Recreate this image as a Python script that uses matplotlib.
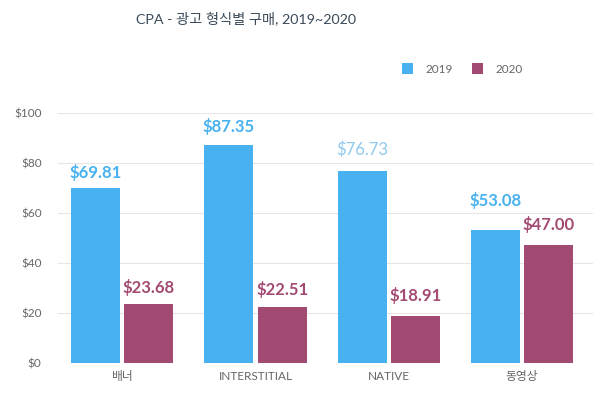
import matplotlib.pyplot as plt
import numpy as np

plt.rcParams['font.family'] = ['Lato', 'Noto Sans CJK KR', 'DejaVu Sans']

categories = ['배너', 'INTERSTITIAL', 'NATIVE', '동영상']
cpa_2019 = [69.81, 87.35, 76.73, 53.08]
cpa_2020 = [23.68, 22.51, 18.91, 47.00]
yticks = [0, 20, 40, 60, 80, 100]

blue = '#48B1EF'
maroon = '#A34A73'

# label lift above the bar top, in pixels (the original nudges some labels)
lift_2019 = [15.5, 18.5, 21, 30]
lift_2020 = [16, 17.5, 20, 21]

fig = plt.figure(figsize=(6, 3.95), dpi=100)
ax = fig.add_axes([0.097, 0.081, 0.891, 0.633])

x = np.arange(len(categories))
w = 0.366
off = 0.2
b1 = ax.bar(x - off, cpa_2019, w, color=blue, label='2019', zorder=3)
b2 = ax.bar(x + off, cpa_2020, w, color=maroon, label='2020', zorder=3)

for i, (r, v) in enumerate(zip(b1, cpa_2019)):
    # NATIVE label is lighter and not bold in the original
    if i == 2:
        c, fw = '#8FC9EC', 'normal'
    else:
        c, fw = blue, 'bold'
    ax.annotate(f'${v:.2f}', (r.get_x() + r.get_width() / 2, v),
                xytext=(0, lift_2019[i] * 0.72), textcoords='offset points',
                ha='center', va='center',
                fontsize=12, color=c, fontweight=fw, annotation_clip=False)
for i, (r, v) in enumerate(zip(b2, cpa_2020)):
    ax.annotate(f'${v:.2f}', (r.get_x() + r.get_width() / 2, v),
                xytext=(0, lift_2020[i] * 0.72), textcoords='offset points',
                ha='center', va='center',
                fontsize=12, color=maroon, fontweight='bold', annotation_clip=False)

ax.set_xlim(-0.48, 3.53)
ax.set_ylim(0, 100)
ax.set_yticks(yticks)
ax.set_yticklabels([f'${t}' for t in yticks])
ax.set_xticks(x)
ax.set_xticklabels(categories)
ax.tick_params(axis='both', length=0, labelsize=8.5, colors='#666666')
ax.tick_params(axis='y', pad=12)
ax.tick_params(axis='x', pad=6)
ax.grid(axis='y', color='#E6E6E6', linewidth=0.8, zorder=0)
for s in ax.spines.values():
    s.set_visible(False)

fig.legend(loc='center', bbox_to_anchor=(0.77, 0.825), ncol=2, frameon=False,
           fontsize=8.5, handlelength=1.0, handleheight=1.0, columnspacing=1.6,
           handletextpad=1.0, labelcolor='#666666')

fig.text(0.41, 0.955, 'CPA - 광고 형식별 구매, 2019~2020', ha='center', va='center',
         fontsize=10.3, color='#3A4A5A')

fig.savefig('out.png', dpi=100, facecolor='white')
